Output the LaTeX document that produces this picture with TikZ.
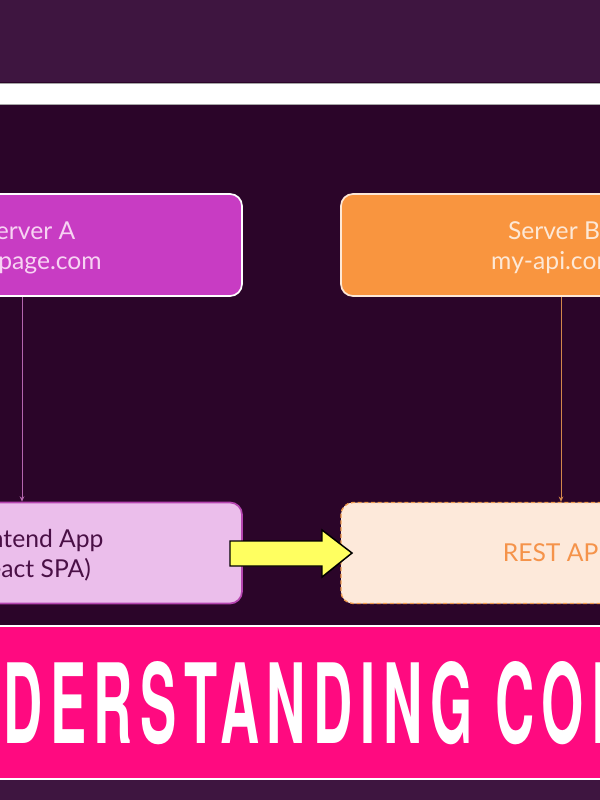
\documentclass[tikz,border=0pt]{standalone}
\usepackage{fontspec}
\usepackage{graphicx}
\usetikzlibrary{arrows.meta}
\setmainfont{Lato}
\newfontfamily\bannerfont[LetterSpace=14]{TeX Gyre Heros}
\definecolor{plum}{HTML}{3E1540}
\definecolor{darkbg}{HTML}{2B0529}
\definecolor{saFill}{HTML}{C83CC3}
\definecolor{saText}{HTML}{F7D3F3}
\definecolor{sbFill}{HTML}{F9953F}
\definecolor{sbText}{HTML}{FDE8D6}
\definecolor{feFill}{HTML}{EBBEEB}
\definecolor{feDraw}{HTML}{B545B0}
\definecolor{feText}{HTML}{4A1046}
\definecolor{raFill}{HTML}{FDE9DA}
\definecolor{raDraw}{HTML}{EE9A4E}
\definecolor{raText}{HTML}{F5934A}
\definecolor{lineA}{HTML}{B466AE}
\definecolor{lineB}{HTML}{D2874A}
\definecolor{banner}{HTML}{FF0A80}
\definecolor{yel}{HTML}{FFFF60}
\tikzset{
  box/.style={rectangle, rounded corners=9pt, minimum width=319.5pt, minimum height=76.5pt,
    line width=1.3pt, inner sep=0pt},
  lbl/.style={align=center, font=\fontsize{18.5}{22.5}\selectfont, inner sep=0pt},
  conn/.style={-{Stealth[length=4pt,width=3.5pt]}, line width=0.6pt},
}
\begin{document}
\begin{tikzpicture}[x=0.75pt,y=-0.75pt]
\useasboundingbox (0,0) rectangle (600,800);
\clip (0,0) rectangle (600,800);
% backgrounds
\fill[plum] (0,0) rectangle (600,82);
\fill[darkbg] (0,82) rectangle (600,626);
\draw[fill=white, draw=gray!70, line width=0.6pt] (-2,83) rectangle (602,104);
\fill[plum] (0,779) rectangle (600,800);
\draw[fill=banner, draw=white, line width=1.5pt] (-2,626) rectangle (602,779);
% boxes
\node[box, fill=saFill, draw=white] (sa) at (29,245) {};
\node[box, fill=sbFill, draw=sbText] (sb) at (554,245) {};
\node[box, fill=feFill, draw=feDraw, minimum height=75.75pt] (fe) at (29,553) {};
\node[box, fill=raFill, draw=raDraw, densely dashed, minimum height=75.75pt, line width=1pt] (ra) at (554,553) {};
\node[lbl, text=saText] (saL) at ([yshift=-2.25pt]sa.center) {Server A\\my-page.com};
\node[lbl, text=sbText] (sbL) at ([yshift=-2.25pt]sb.center) {Server B\\my-api.com};
\node[lbl, text=feText] (feL) at ([yshift=-1.5pt]fe.center) {Frontend App\\(React SPA)};
\node[lbl, text=raText] (raL) at (ra.center) {REST API};
% connectors
\draw[conn, lineA] ([xshift=-5.25pt]sa.south) -- ([xshift=-5.25pt]fe.north);
\draw[conn, lineB] ([xshift=5.25pt]sb.south) -- ([xshift=5.25pt]ra.north);
% yellow arrow
\draw[fill=yel, draw=black, line width=1.1pt, line join=miter]
  (230,541) -- (322,541) -- (322,530) -- (352,553) -- (322,577) -- (322,566) -- (230,566) -- cycle;
% banner text
\node[anchor=south west, inner sep=0pt, text=white] (title) at (3,745)
  {\resizebox{369pt}{61.5pt}{\bannerfont\bfseries\llap{UN}DERSTANDING \rlap{CORS}}};
\end{tikzpicture}
\end{document}
